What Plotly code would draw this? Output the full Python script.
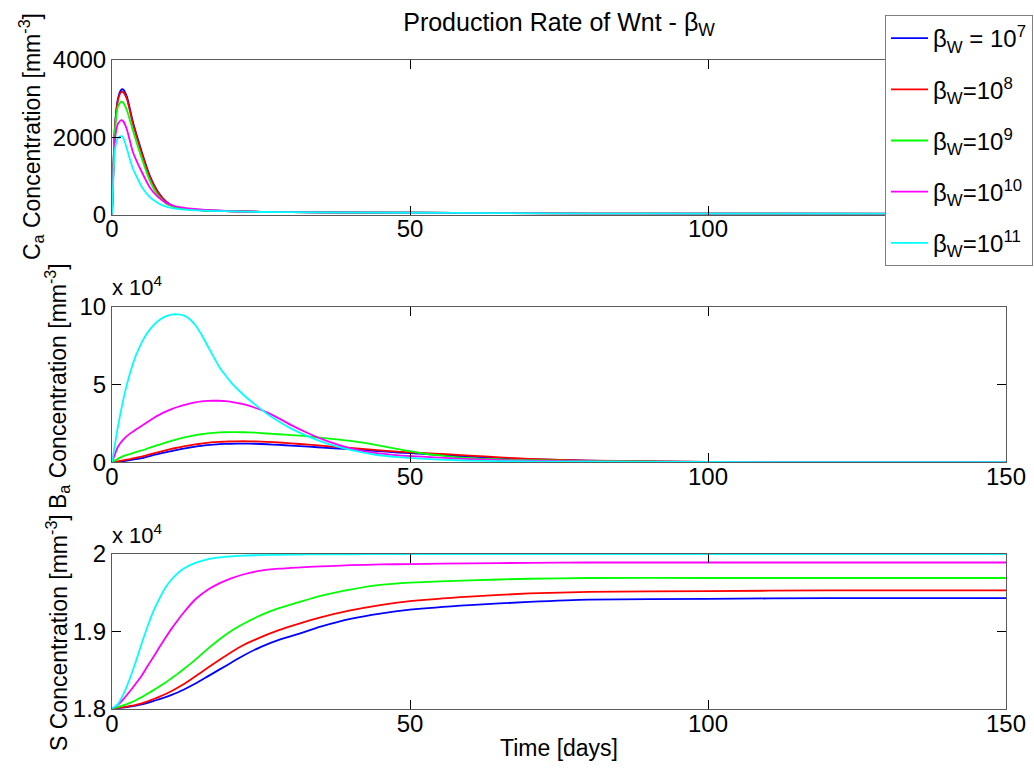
import plotly.graph_objects as go

# Series labels and colours (one per Wnt production rate)
labels = [
    "β<sub>W</sub> = 10<sup>7</sup>",
    "β<sub>W</sub>=10<sup>8</sup>",
    "β<sub>W</sub>=10<sup>9</sup>",
    "β<sub>W</sub>=10<sup>10</sup>",
    "β<sub>W</sub>=10<sup>11</sup>",
]
colors = ["#0000FF", "#FF0000", "#00FF00", "#FF00FF", "#00FFFF"]

# --- C_a concentration [mm^-3] ---
t_ca = [0, 0.25, 0.5, 1, 1.5, 1.85, 2.5, 3.5, 5, 6.3, 7.7, 9.1, 10.5, 13.3, 19, 25, 35, 50, 65, 80, 100, 150]
ca_b7 = [0, 1300, 2300, 3000, 3220, 3240, 3050, 2400, 1620, 1020, 590, 330, 200, 130, 90, 70, 55, 45, 35, 25, 20, 15]
ca_b8 = [0, 1280, 2270, 2960, 3160, 3175, 2990, 2350, 1580, 990, 570, 320, 195, 128, 88, 70, 55, 45, 35, 25, 20, 15]
ca_b9 = [0, 1250, 2200, 2800, 2920, 2900, 2700, 2180, 1450, 890, 500, 280, 200, 125, 87, 68, 55, 45, 35, 25, 20, 15]
ca_b10 = [0, 1150, 1950, 2350, 2440, 2420, 2200, 1620, 1100, 715, 456, 300, 220, 150, 90, 68, 55, 45, 35, 25, 20, 15]
ca_b11 = [0, 1050, 1700, 1980, 2030, 2000, 1700, 1190, 715, 456, 300, 200, 150, 115, 85, 65, 55, 45, 35, 25, 20, 15]

# --- B_a concentration [x 10^4 mm^-3] ---
t_ba = [0, 1, 2, 3, 4, 5, 6, 7, 8, 9, 10, 11, 12, 13, 14, 15, 16, 17, 18, 19, 20,
        22, 24, 26, 28, 30, 33, 36, 40, 44, 48, 52, 56, 60, 65, 70, 80, 90, 100, 120, 150]
ba_b7 = [0, 0.03, 0.08, 0.14, 0.2, 0.27, 0.37, 0.47, 0.56, 0.64, 0.72, 0.8, 0.88, 0.95, 1.01, 1.06, 1.1, 1.14, 1.17, 1.18, 1.19,
         1.2, 1.19, 1.16, 1.12, 1.07, 1.0, 0.93, 0.84, 0.74, 0.63, 0.54, 0.45, 0.36, 0.28, 0.2, 0.1, 0.05, 0.03, 0.01, 0.01]
ba_b8 = [0, 0.06, 0.14, 0.21, 0.29, 0.37, 0.47, 0.57, 0.67, 0.76, 0.86, 0.94, 1.02, 1.09, 1.15, 1.2, 1.25, 1.29, 1.31, 1.33, 1.34,
         1.35, 1.34, 1.31, 1.27, 1.22, 1.13, 1.04, 0.92, 0.8, 0.68, 0.6, 0.52, 0.43, 0.32, 0.22, 0.11, 0.06, 0.03, 0.01, 0.01]
ba_b9 = [0, 0.22, 0.41, 0.53, 0.65, 0.76, 0.89, 1.02, 1.14, 1.26, 1.38, 1.48, 1.58, 1.67, 1.74, 1.8, 1.85, 1.89, 1.92, 1.93, 1.935,
         1.93, 1.9, 1.85, 1.8, 1.75, 1.66, 1.54, 1.37, 1.13, 0.84, 0.58, 0.4, 0.27, 0.18, 0.13, 0.07, 0.04, 0.02, 0.01, 0.01]
ba_b10 = [0, 1.0, 1.5, 1.84, 2.1, 2.35, 2.6, 2.85, 3.06, 3.25, 3.41, 3.55, 3.67, 3.77, 3.85, 3.91, 3.94, 3.95, 3.95, 3.93, 3.88,
          3.73, 3.5, 3.2, 2.82, 2.4, 1.85, 1.38, 0.9, 0.6, 0.45, 0.36, 0.28, 0.2, 0.14, 0.1, 0.05, 0.03, 0.02, 0.01, 0.01]
ba_b11 = [0, 2.3, 4.2, 5.7, 6.85, 7.7, 8.35, 8.8, 9.15, 9.37, 9.48, 9.5, 9.43, 9.2, 8.8, 8.2, 7.5, 6.8, 6.12, 5.6, 5.12,
          4.35, 3.7, 3.12, 2.62, 2.18, 1.65, 1.22, 0.8, 0.5, 0.33, 0.23, 0.16, 0.11, 0.08, 0.06, 0.04, 0.03, 0.02, 0.01, 0.01]

# --- S concentration [x 10^4 mm^-3] ---
t_s = [0, 1, 2, 3, 4, 5, 6, 7, 8, 9, 10, 11, 12, 14, 16, 18, 20, 22, 25, 28, 31, 35, 40, 45, 50, 60, 70, 80, 100, 120, 150]
s_b7 = [1.8, 1.8005, 1.8015, 1.8027, 1.804, 1.8055, 1.8075, 1.81, 1.8125, 1.815, 1.8178, 1.821, 1.8245, 1.8325, 1.8415, 1.8505,
        1.8595, 1.8685, 1.88, 1.889, 1.896, 1.906, 1.916, 1.923, 1.928, 1.934, 1.938, 1.941, 1.942, 1.943, 1.943]
s_b8 = [1.8, 1.801, 1.802, 1.8035, 1.805, 1.807, 1.8095, 1.8125, 1.8157, 1.819, 1.8228, 1.827, 1.8315, 1.842, 1.8525, 1.863,
        1.873, 1.882, 1.8925, 1.9015, 1.909, 1.918, 1.927, 1.934, 1.939, 1.945, 1.949, 1.951, 1.952, 1.953, 1.953]
s_b9 = [1.8, 1.802, 1.8045, 1.8075, 1.811, 1.815, 1.8195, 1.824, 1.829, 1.834, 1.8395, 1.845, 1.851, 1.8635, 1.877, 1.8895,
        1.9005, 1.9095, 1.921, 1.93, 1.937, 1.946, 1.954, 1.96, 1.963, 1.966, 1.968, 1.969, 1.969, 1.969, 1.969]
s_b10 = [1.8, 1.805, 1.813, 1.8225, 1.8325, 1.843, 1.8555, 1.8675, 1.88, 1.892, 1.9035, 1.914, 1.924, 1.9415, 1.9535, 1.962,
         1.9685, 1.9735, 1.9785, 1.981, 1.9825, 1.984, 1.9855, 1.9865, 1.987, 1.988, 1.9885, 1.989, 1.989, 1.989, 1.989]
s_b11 = [1.8, 1.806, 1.82, 1.839, 1.861, 1.885, 1.907, 1.927, 1.943, 1.957, 1.967, 1.975, 1.981, 1.9885, 1.993, 1.9955,
         1.997, 1.998, 1.9985, 1.999, 1.9993, 1.9995, 1.9997, 1.9998, 1.9999, 2.0, 2.0, 2.0, 2.0, 2.0, 2.0]

x_ticks = [0, 50, 100, 150]
x_tick_text = ["0", "50", "100", "150"]
# the top panel's last label sits under the legend box
x_tick_text_top = ["0", "50", "100", ""]

W, H = 1034, 772
FONT = "Liberation Sans, Arial, Helvetica, sans-serif"
TICK_FS = 24
LABEL_FS = 23

fig = go.Figure()

panels = [
    ("x", "y", t_ca, [ca_b7, ca_b8, ca_b9, ca_b10, ca_b11], True),
    ("x2", "y2", t_ba, [ba_b7, ba_b8, ba_b9, ba_b10, ba_b11], False),
    ("x3", "y3", t_s, [s_b7, s_b8, s_b9, s_b10, s_b11], False),
]
for xa, ya, t, series, show in panels:
    for i, vals in enumerate(series):
        fig.add_trace(go.Scatter(
            x=t, y=vals, mode="lines", xaxis=xa, yaxis=ya,
            line=dict(color=colors[i], width=1.8, shape="spline", smoothing=0.5),
            name=labels[i], legendgroup=f"g{i}", showlegend=show,
        ))


def px_x(p):
    return p / W


def px_y(p):
    return 1 - p / H


x_dom = [px_x(112), px_x(1006)]
dom_top = [px_y(214.5), px_y(60)]
dom_mid = [px_y(462.3), px_y(306.5)]
dom_bot = [px_y(708.7), px_y(554)]

axis_common = dict(
    showline=True, linecolor="#5a5a5a", linewidth=1, mirror="allticks",
    ticks="inside", ticklen=9, tickwidth=1, tickcolor="#000000",
    showgrid=False, zeroline=False,
    tickfont=dict(family=FONT, size=TICK_FS, color="#000000"),
)
x_common = dict(range=[0, 150], tickvals=x_ticks, ticklabelstandoff=-7, **axis_common)

fig.update_layout(
    width=W, height=H,
    margin=dict(l=0, r=0, t=0, b=0, autoexpand=False),
    paper_bgcolor="white", plot_bgcolor="white",
    font=dict(family=FONT, size=TICK_FS, color="#000000"),
    showlegend=True,
    title=dict(
        text="Production Rate of Wnt - β<sub>W</sub>",
        x=559 / W, xanchor="center", y=px_y(22), yanchor="middle",
        font=dict(family=FONT, size=25, color="#000000"),
    ),
    legend=dict(
        x=px_x(1033), y=px_y(15), xanchor="right", yanchor="top",
        bgcolor="white", bordercolor="#808080", borderwidth=1,
        font=dict(family=FONT, size=24, color="#000000"),
        tracegroupgap=17, itemwidth=37,
    ),
    xaxis=dict(domain=x_dom, anchor="y", ticktext=x_tick_text_top, **x_common),
    yaxis=dict(domain=dom_top, anchor="x", range=[0, 4000], tickvals=[0, 2000, 4000], **axis_common),
    xaxis2=dict(domain=x_dom, anchor="y2", ticktext=x_tick_text, **x_common),
    yaxis2=dict(domain=dom_mid, anchor="x2", range=[0, 10], tickvals=[0, 5, 10], **axis_common),
    xaxis3=dict(domain=x_dom, anchor="y3", ticktext=x_tick_text, **x_common),
    yaxis3=dict(domain=dom_bot, anchor="x3", range=[1.8, 2.0], tickvals=[1.8, 1.9, 2.0],
                ticktext=["1.8", "1.9", "2"], **axis_common),
)

# axis labels and exponent markers
annotations = [
    dict(text="C<sub>a</sub> Concentration [mm<sup>-3</sup>]", x=px_x(31), y=px_y(137),
         textangle=-90, size=LABEL_FS),
    dict(text="B<sub>a</sub> Concentration [mm<sup>-3</sup>]", x=px_x(57), y=px_y(386),
         textangle=-90, size=LABEL_FS),
    dict(text="S Concentration [mm<sup>-3</sup>]", x=px_x(57), y=px_y(633),
         textangle=-90, size=LABEL_FS),
    dict(text="Time [days]", x=px_x(559), y=px_y(748), textangle=0, size=LABEL_FS),
    dict(text="x 10<sup>4</sup>", x=px_x(110), y=px_y(302), xanchor="left", yanchor="bottom",
         textangle=0, size=22),
    dict(text="x 10<sup>4</sup>", x=px_x(110), y=px_y(550), xanchor="left", yanchor="bottom",
         textangle=0, size=22),
]
for a in annotations:
    size = a.pop("size")
    a.setdefault("xanchor", "center")
    a.setdefault("yanchor", "middle")
    fig.add_annotation(xref="paper", yref="paper", showarrow=False,
                       font=dict(family=FONT, size=size, color="#000000"), **a)

fig.write_html("out.html")
